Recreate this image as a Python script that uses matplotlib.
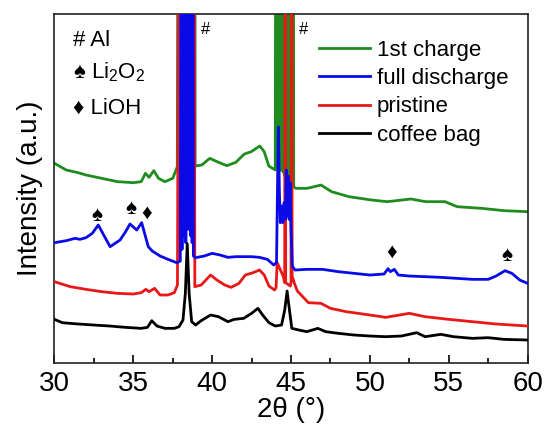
import matplotlib
matplotlib.use('Agg')
import matplotlib.pyplot as plt
from matplotlib.ticker import MultipleLocator

plt.rcParams['font.family'] = ['Liberation Sans', 'DejaVu Sans']
plt.rcParams['mathtext.fontset'] = 'custom'
plt.rcParams['mathtext.rm'] = 'Liberation Sans'
plt.rcParams['mathtext.it'] = 'Liberation Sans'
# keep every vertex of the saturated Al bands
plt.rcParams['path.simplify'] = False

# values (2theta in degrees, intensity in arbitrary units)
# 3000 = saturated Al reflections running off the top of the frame
tth_charge = [30.0, 30.75, 31.5, 32.0, 33.0, 34.0, 35.0, 35.5, 35.77, 36.0, 36.3, 36.6, 37.0, 37.5, 37.79,
              37.93, 38.88, 38.92, 39.34, 39.85, 40.31, 40.93, 41.5, 42.04, 42.48, 43.02, 43.3, 43.59, 44.0,
              44.08, 44.12, 44.16, 44.2, 44.24, 44.28, 44.32, 44.36, 44.4, 44.44, 44.48, 44.52, 44.56,
              44.6, 44.64, 44.68, 44.72, 44.76, 44.8, 44.84, 44.88, 44.92, 44.96, 45.0, 45.04, 45.08,
              45.12, 45.17, 45.3, 46.02, 46.9, 47.57, 48.67, 50.1, 51.1, 52.6, 53.54, 54.76, 55.53, 57.08,
              58.5, 60.0]
int_charge = [598, 578, 570, 563, 553, 543, 540, 543, 568, 556, 576, 553, 543, 553, 588,
              3000, 3000, 590, 593, 613, 603, 591, 601, 626, 633, 650, 633, 590, 578,
              3000, 585, 3000, 582, 3000, 580, 3000, 578, 3000, 575, 3000, 570, 3000,
              560, 3000, 552, 3000, 545, 3000, 540, 3000, 535, 3000, 532, 3000, 530,
              3000, 528, 523, 523, 533, 513, 498, 488, 483, 491, 483, 483, 468, 463,
              456, 453]

tth_discharge = [30.0, 30.75, 31.3, 31.62, 32.0, 32.4, 32.78, 33.1, 33.53, 34.16, 34.5, 34.79, 35.22, 35.53,
                 35.95, 36.2, 36.7, 37.2, 37.75, 37.98,
                 38.05, 38.09, 38.13, 38.17, 38.21, 38.25, 38.29, 38.33, 38.37, 38.41, 38.45, 38.49,
                 38.53, 38.57, 38.61, 38.65, 38.69, 38.73, 38.77, 38.81,
                 38.95, 39.5, 40.0, 40.5, 41.0, 41.5, 42.0, 42.5, 43.0, 43.5, 43.9,
                 44.08, 44.14, 44.2, 44.26, 44.32, 44.4, 44.48, 44.56, 44.64, 44.7, 44.76, 44.82, 44.88,
                 44.94, 45.0, 45.08, 45.25, 46.0, 47.0, 48.0, 49.0, 50.0, 50.9, 51.15, 51.3, 51.55, 51.8,
                 52.5, 53.5, 54.5, 55.5, 56.5, 57.5, 58.0, 58.57, 59.0, 59.5, 60.0]
int_discharge = [360, 366, 373, 370, 375, 388, 413, 385, 348, 368, 392, 416, 398, 420,
                 348, 335, 320, 310, 300, 305,
                 3000, 340, 3000, 380, 3000, 400, 3000, 360, 3000, 420, 3000, 400,
                 3000, 420, 3000, 380, 3000, 360, 3000, 320,
                 315, 320, 328, 323, 316, 318, 318, 318, 316, 310, 293,
                 300, 520, 707, 520, 420, 470, 420, 480, 430, 578, 440, 560, 430,
                 540, 400, 290, 278, 280, 280, 273, 268, 263, 266, 282, 273, 280, 263,
                 260, 258, 256, 253, 250, 250, 260, 276, 268, 248, 238]

tth_pristine = [30.0, 31.0, 32.0, 33.0, 34.0, 35.0, 35.5, 35.8, 36.0, 36.35, 36.7, 37.2, 37.6, 37.8,
                37.97, 38.84, 38.9, 39.3, 39.9, 40.3, 40.8, 41.2, 41.7, 42.1, 42.6, 43.0, 43.3, 43.6, 43.95,
                44.05, 44.12, 44.5, 44.6, 44.63, 44.66, 44.95, 45.0, 45.03, 45.07, 45.2, 45.4, 45.8,
                46.1, 46.9, 47.5, 48.5, 50.0, 51.0, 52.5, 53.5, 55.0, 56.5, 58.0, 60.0]
int_pristine = [243, 228, 220, 213, 208, 206, 210, 220, 213, 223, 203, 203, 210, 233,
                3000, 3000, 228, 233, 263, 248, 233, 226, 238, 263, 270, 278, 263, 230, 218,
                225, 300, 260, 240, 3000, 240, 230, 240, 3000, 260, 240, 215, 195,
                180, 178, 163, 153, 143, 136, 148, 138, 130, 123, 116, 110]

tth_bag = [30.0, 30.5, 31.5, 32.5, 33.5, 34.5, 35.5, 35.9, 36.17, 36.5, 37.0, 37.6, 37.9, 38.15, 38.3,
           38.42, 38.54, 38.7, 38.95, 39.3, 39.9, 40.4, 41.0, 41.4, 42.0, 42.5, 42.9, 43.2, 43.6, 44.0,
           44.4, 44.6, 44.75, 44.9, 45.05, 45.5, 46.0, 46.7, 47.2, 48.0, 49.0, 50.0, 51.0, 52.0, 52.97,
           53.5, 54.5, 55.3, 56.5, 57.5, 58.5, 60.0]
int_bag = [130, 120, 116, 113, 110, 106, 103, 106, 126, 110, 103, 103, 108, 128, 208,
           357, 208, 123, 113, 126, 143, 138, 123, 130, 133, 148, 163, 143, 120, 110,
           113, 158, 215, 158, 103, 98, 93, 103, 93, 88, 83, 80, 78, 80, 90,
           78, 85, 78, 73, 75, 70, 68]

labels = ['1st charge', 'full discharge', 'pristine', 'coffee bag']
colors = ['#1e8c1e', '#0a0ae6', '#e81818', '#000000']

# phase markers above the peaks
spade_tth = [32.68, 34.82, 58.68]
spade_int = [443, 463, 323]
diamond_tth = [35.87, 51.39]
diamond_int = [448, 330]

fig = plt.figure(figsize=(5.47, 4.28), dpi=100)
ax = fig.add_axes([0.0995, 0.1526, 0.8651, 0.8147])

series = [(tth_charge, int_charge), (tth_discharge, int_discharge),
          (tth_pristine, int_pristine), (tth_bag, int_bag)]
zorders = [2, 4, 3, 5]
lines = []
for (x, y), lab, c, z in zip(series, labels, colors, zorders):
    ln, = ax.plot(x, y, color=c, lw=2.0, label=lab, zorder=z, solid_joinstyle='round')
    lines.append(ln)

for x, y in zip(spade_tth, spade_int):
    ax.text(x, y, '\u2660', ha='center', va='center', fontsize=15)
for x, y in zip(diamond_tth, diamond_int):
    ax.text(x, y, '\u2666', ha='center', va='center', fontsize=15)

ax.text(39.6, 998, '#', ha='center', va='center', fontsize=12)
ax.text(45.8, 998, '#', ha='center', va='center', fontsize=12)

ax.text(0.040, 0.925, '# Al', transform=ax.transAxes, ha='left', va='center', fontsize=16)
ax.text(0.040, 0.832, '\u2660 Li$_2$O$_2$', transform=ax.transAxes, ha='left', va='center', fontsize=16)
ax.text(0.040, 0.730, '\u2666 LiOH', transform=ax.transAxes, ha='left', va='center', fontsize=16)

ax.legend(handles=lines, loc='upper left', bbox_to_anchor=(0.559, 0.926), frameon=False,
          fontsize=16, handlelength=2.3, handletextpad=0.3, labelspacing=0.33,
          borderpad=0, borderaxespad=0)

ax.set_xlim(30, 60)
ax.set_ylim(0, 1046)
ax.xaxis.set_major_locator(MultipleLocator(5))
ax.xaxis.set_minor_locator(MultipleLocator(2.5))
ax.tick_params(axis='x', which='major', direction='in', length=6, width=1.2, labelsize=20, pad=6)
ax.tick_params(axis='x', which='minor', direction='in', length=3.5, width=1.2)
ax.set_yticks([])
for s in ax.spines.values():
    s.set_linewidth(1.2)
    s.set_color('#222222')

ax.set_xlabel('2\u03b8 (\u00b0)', fontsize=20, labelpad=0)
ax.set_ylabel('Intensity (a.u.)', fontsize=20, labelpad=8)

fig.savefig('out.png', dpi=100)
